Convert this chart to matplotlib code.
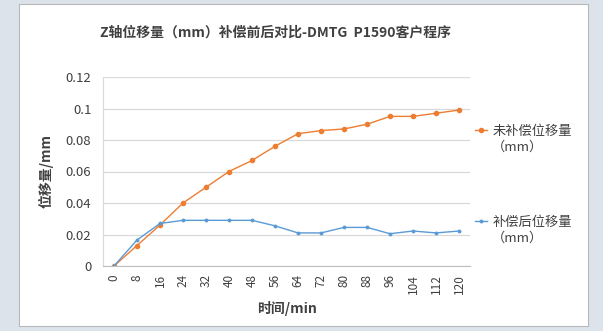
import matplotlib
matplotlib.use('Agg')
import matplotlib.pyplot as plt
from matplotlib.patches import Rectangle

plt.rcParams['font.family'] = ['Noto Sans CJK SC', 'DejaVu Sans']

# data
time_labels = ['0', '8', '16', '24', '32', '40', '48', '56', '64', '72',
               '80', '88', '96', '104', '112', '120']
before_comp = [0, 0.013, 0.026, 0.040, 0.050, 0.060, 0.067, 0.076, 0.084,
               0.086, 0.087, 0.090, 0.095, 0.095, 0.097, 0.099]
after_comp = [0, 0.0165, 0.027, 0.029, 0.029, 0.029, 0.029, 0.0255, 0.021,
              0.021, 0.0245, 0.0245, 0.0205, 0.0222, 0.021, 0.0222]
y_ticks = [0, 0.02, 0.04, 0.06, 0.08, 0.1, 0.12]
y_tick_labels = ['0', '0.02', '0.04', '0.06', '0.08', '0.1', '0.12']
series_names = ['未补偿位移量', '补偿后位移量']
unit_text = '（mm）'

fig = plt.figure(figsize=(6.03, 3.31), dpi=100)
fig.set_facecolor('#dce3ea')

# white chart panel behind the axes
panel = Rectangle((19 / 603, 5 / 331), 569 / 603, 322 / 331, transform=fig.transFigure,
                  facecolor='white', edgecolor='#b8b8b8', linewidth=0.8, zorder=-1)
fig.patches.append(panel)

ax = fig.add_axes([102.5 / 603, 1 - 266 / 331, 368 / 603, 189 / 331])
ax.set_facecolor('white')

x = list(range(len(time_labels)))
ax.plot(x, before_comp, color='#ed7d31', linewidth=1.0, marker='o', markersize=3,
        label=series_names[0])
ax.plot(x, after_comp, color='#5b9bd5', linewidth=1.0, marker='o', markersize=1.8,
        label=series_names[1])

ax.set_xlim(-0.5, len(time_labels) - 0.5)
ax.set_ylim(0, 0.12)
ax.set_xticks(x)
ax.set_xticklabels(time_labels, rotation=90, fontsize=8.5, color='#404040')
ax.set_yticks(y_ticks)
ax.set_yticklabels(y_tick_labels, fontsize=9.5, color='#404040')
ax.tick_params(axis='both', length=0)
ax.tick_params(axis='y', pad=8)
ax.tick_params(axis='x', pad=6)

ax.grid(axis='y', color='#d9d9d9', linewidth=0.9)
ax.set_axisbelow(True)
for side in ['top', 'right']:
    ax.spines[side].set_visible(False)
ax.spines['left'].set_color('#d9d9d9')
ax.spines['bottom'].set_color('#bfbfbf')

ax.set_xlabel('时间/min', fontsize=10, fontweight='bold', color='#404040', labelpad=5)
ax.set_ylabel('位移量/mm', fontsize=10, fontweight='bold', color='#404040', labelpad=9)

fig.text(275 / 603, 1 - 33 / 331, 'Z轴位移量（mm）补偿前后对比-DMTG  P1590客户程序',
         ha='center', va='center', fontsize=10, fontweight='bold', color='#404040')

leg = ax.legend(loc='upper left', bbox_to_anchor=(0.98, 0.81), frameon=False, fontsize=9.5,
                labelcolor='#404040', labelspacing=5.9, handlelength=0.9, handletextpad=0.4)
# second line of each legend label, placed under the first (drawn after the legend)
for t in leg.get_texts():
    ax.annotate(unit_text, xy=(0, 0), xycoords=t, xytext=(0, -2), textcoords='offset points',
                ha='left', va='top', fontsize=9.5, color='#404040', zorder=6,
                annotation_clip=False)

plt.savefig('out.png', dpi=100, facecolor=fig.get_facecolor())
